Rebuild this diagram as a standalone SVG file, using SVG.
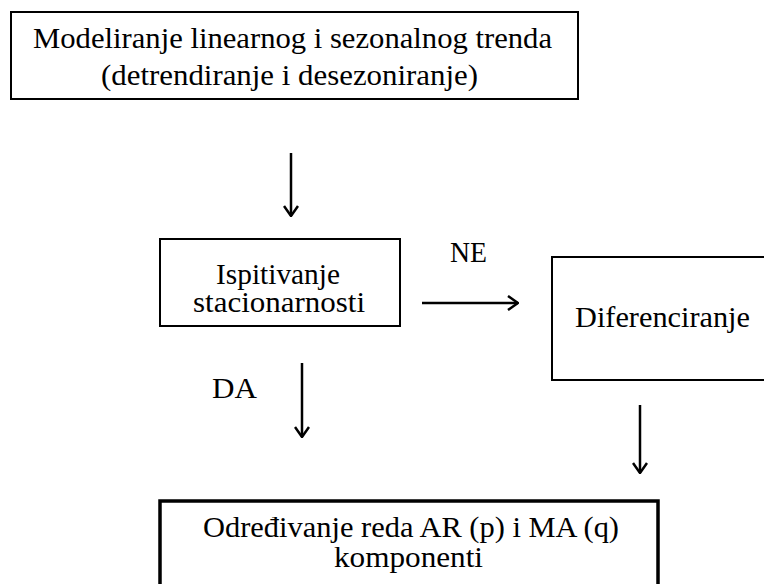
<svg xmlns="http://www.w3.org/2000/svg" width="764" height="584" viewBox="0 0 764 584">
<defs>
<style>
.box{fill:#fff;stroke:#000;stroke-width:2}
.thick{stroke-width:3.5}
text{font-family:'Liberation Serif','Times New Roman',serif;font-size:28.5px;fill:#000}
.c{stroke:#000;stroke-width:2.5;fill:none}
</style>
<marker id="ah" viewBox="0 0 12 16" refX="11" refY="8" markerWidth="12" markerHeight="16" markerUnits="userSpaceOnUse" orient="auto">
<path d="M1,1 L11,8 L1,15" fill="none" stroke="#000" stroke-width="2.5"/>
</marker>
</defs>
<rect width="764" height="584" fill="#fff"/>
<g id="n1">
<rect class="box" x="11" y="12" width="567" height="87"/>
<text x="33" y="48" textLength="519" lengthAdjust="spacingAndGlyphs">Modeliranje linearnog i sezonalnog trenda</text>
<text x="101" y="85" textLength="377" lengthAdjust="spacingAndGlyphs">(detrendiranje i desezoniranje)</text>
</g>
<g id="n2">
<rect class="box" x="160" y="239" width="240" height="87"/>
<text x="216" y="284" textLength="124" lengthAdjust="spacingAndGlyphs">Ispitivanje</text>
<text x="193" y="312" textLength="172" lengthAdjust="spacingAndGlyphs">stacionarnosti</text>
</g>
<g id="n3">
<rect class="box" x="552" y="257" width="220" height="123"/>
<text x="575" y="327" textLength="175" lengthAdjust="spacingAndGlyphs">Diferenciranje</text>
</g>
<g id="n4">
<rect class="box thick" x="160" y="501" width="498" height="100"/>
<text x="203" y="537" textLength="416" lengthAdjust="spacingAndGlyphs">Određivanje reda AR (p) i MA (q)</text>
<text x="334" y="567" textLength="149" lengthAdjust="spacingAndGlyphs">komponenti</text>
</g>
<g id="connectors">
<line class="c" x1="291" y1="153" x2="291" y2="216" marker-end="url(#ah)"/>
<line class="c" x1="422" y1="303" x2="518" y2="303" marker-end="url(#ah)"/>
<line class="c" x1="302" y1="363" x2="302" y2="437" marker-end="url(#ah)"/>
<line class="c" x1="640" y1="405" x2="640" y2="473" marker-end="url(#ah)"/>
<text x="450" y="262" textLength="37" lengthAdjust="spacingAndGlyphs">NE</text>
<text x="212" y="398" textLength="45" lengthAdjust="spacingAndGlyphs">DA</text>
</g>
</svg>
